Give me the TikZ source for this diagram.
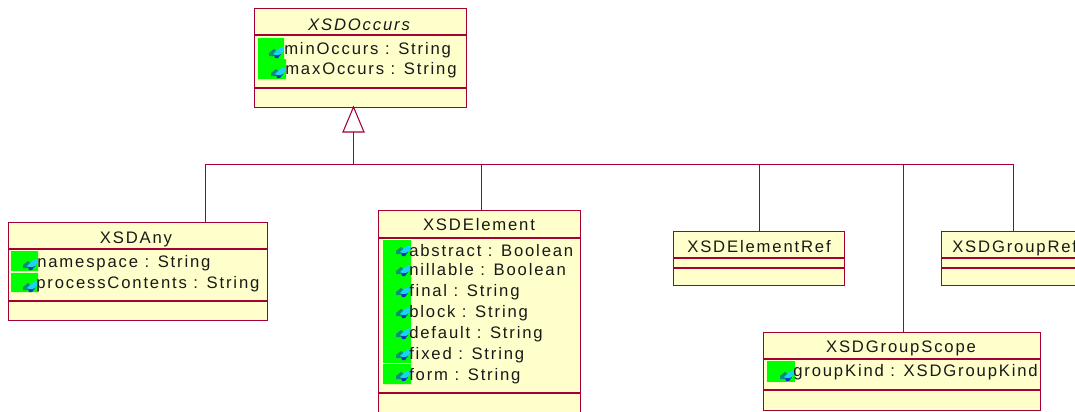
\documentclass[tikz,border=0pt]{standalone}
\usepackage{fontspec}
\setmainfont{Liberation Sans}[LetterSpace=11]
\newfontface\itfont{Liberation Sans Italic}[LetterSpace=11]
\definecolor{umlline}{HTML}{A50034}
\definecolor{umlfill}{HTML}{FFFFCC}
\definecolor{icongreen}{HTML}{00FF00}
\definecolor{iconblue}{HTML}{0A32B4}
\definecolor{iconcyan}{HTML}{19D2F5}
\definecolor{iconteal}{HTML}{0A8C78}
\tikzset{
  x=0.75pt,y=-0.75pt,
  umlline/.style={draw=umlline,line width=0.8pt},
  classbox/.style={umlline,fill=umlfill,rectangle,inner sep=0pt,anchor=north west},
  txt/.style={anchor=base west,inner sep=0pt,font=\fontsize{12.5}{14}\selectfont,text=black!90},
  ttl/.style={anchor=base,inner sep=0pt,font=\fontsize{12.5}{14}\selectfont,text=black!90},
  greenbg/.style={fill=icongreen,draw=none},
}
\newcommand{\attricon}[2]{%
  \begin{scope}[shift={(#1,#2)}]
    \fill[iconteal] (-15,-5) -- (-10,-9) -- (-6,-6) -- (-9,-2) -- (-15,-2) -- cycle;
    \fill[iconblue] (-10,-4) -- (-3,-4) -- (-6,0) -- (-9,0) -- cycle;
    \fill[iconcyan] (-11,-4) -- (-6,-9) -- (-1,-11) -- (0,-7) -- (-5,-3) -- (-9,-3) -- cycle;
  \end{scope}}
\begin{document}
\begin{tikzpicture}
\useasboundingbox (0,0) rectangle (1075,411);
\begin{scope}
\clip (0,0) rectangle (1075,411);
% classes
\node[classbox,minimum width=159pt,minimum height=74.25pt] (occurs) at (254,8) {};
\node[classbox,minimum width=194.25pt,minimum height=73.5pt] (any) at (8,222) {};
\node[classbox,minimum width=151.5pt,minimum height=165pt] (element) at (378,210) {};
\node[classbox,minimum width=128.25pt,minimum height=40.5pt] (elemref) at (673,231) {};
\node[classbox,minimum width=128.25pt,minimum height=40.5pt] (groupref) at (941,231) {};
\node[classbox,minimum width=207.75pt,minimum height=58.5pt] (scope) at (763,332) {};
% compartment lines
\draw[umlline] (254,35) -- (466,35) (254,88) -- (466,88);
\draw[umlline] (8,249) -- (267,249) (8,301) -- (267,301);
\draw[umlline] (378,238) -- (580,238) (378,393) -- (580,393);
\draw[umlline] (673,258) -- (844,258) (673,268) -- (844,268);
\draw[umlline] (941,258) -- (1112,258) (941,268) -- (1112,268);
\draw[umlline] (763,359) -- (1040,359) (763,390) -- (1040,390);
% green backgrounds
\fill[greenbg] (258,38) rectangle (284,59) (258,59) rectangle (286,79);
\fill[greenbg] (11,251) rectangle (38,271) (11,273) rectangle (38,292);
\fill[greenbg] (383,240) rectangle (411,363) (383,364) rectangle (411,384);
\fill[greenbg] (767,361) rectangle (795,382);
% icons
\attricon{284}{58}\attricon{286}{78}
\attricon{38}{270}\attricon{38}{292}
\attricon{411}{256}\attricon{411}{276}\attricon{411}{297}\attricon{411}{318}\attricon{411}{339}\attricon{411}{360}\attricon{411}{381}
\attricon{795}{381}
% texts
\node[ttl] (t1) at (359,30) {\itfont XSDOccurs};
\node[txt] (a1) at (284,54) {minOccurs : String};
\node[txt] (a2) at (285,74) {maxOccurs : String};
\node[ttl] (t2) at (136,243) {XSDAny};
\node[txt] (b1) at (37,267) {namespace : String};
\node[txt] (b2) at (36,288) {processContents : String};
\node[ttl] (t3) at (479,230) {XSDElement};
\node[txt] (c1) at (409,256) {abstract : Boolean};
\node[txt] (c2) at (409,275) {nillable : Boolean};
\node[txt] (c3) at (409,296) {final : String};
\node[txt] (c4) at (409,317) {block : String};
\node[txt] (c5) at (409,338) {default : String};
\node[txt] (c6) at (409,359) {fixed : String};
\node[txt] (c7) at (409,380) {form : String};
\node[ttl] (t4) at (759,252) {XSDElementRef};
\node[txt] (t5) at (952,252) {XSDGroupRef};
\node[ttl] (t6) at (901,352) {XSDGroupScope};
\node[txt] (d1) at (793,376) {groupKind : XSDGroupKind};
% inheritance
\coordinate (tip) at (353.5,107);
\coordinate (trunk) at (353.5,164.5);
\coordinate (tl) at (343,132);
\coordinate (tr) at (364,132);
\coordinate (base) at (353.5,132);
\coordinate (jany) at (205.5,164.5);
\coordinate (jel) at (481.5,164.5);
\coordinate (jref) at (759.5,164.5);
\coordinate (jscope) at (903.5,164.5);
\coordinate (jgref) at (1013.5,164.5);
\draw[umlline] (tip) -- (tl) -- (tr) -- cycle;
\draw[umlline] (base) -- (trunk);
\draw[umlline] (any.north -| jany) |- (jgref) -- (groupref.north -| jgref);
\draw[umlline] (jel) -- (element.north -| jel);
\draw[umlline] (jref) -- (elemref.north -| jref);
\draw[umlline] (jscope) -- (scope.north -| jscope);
\end{scope}
\end{tikzpicture}
\end{document}
